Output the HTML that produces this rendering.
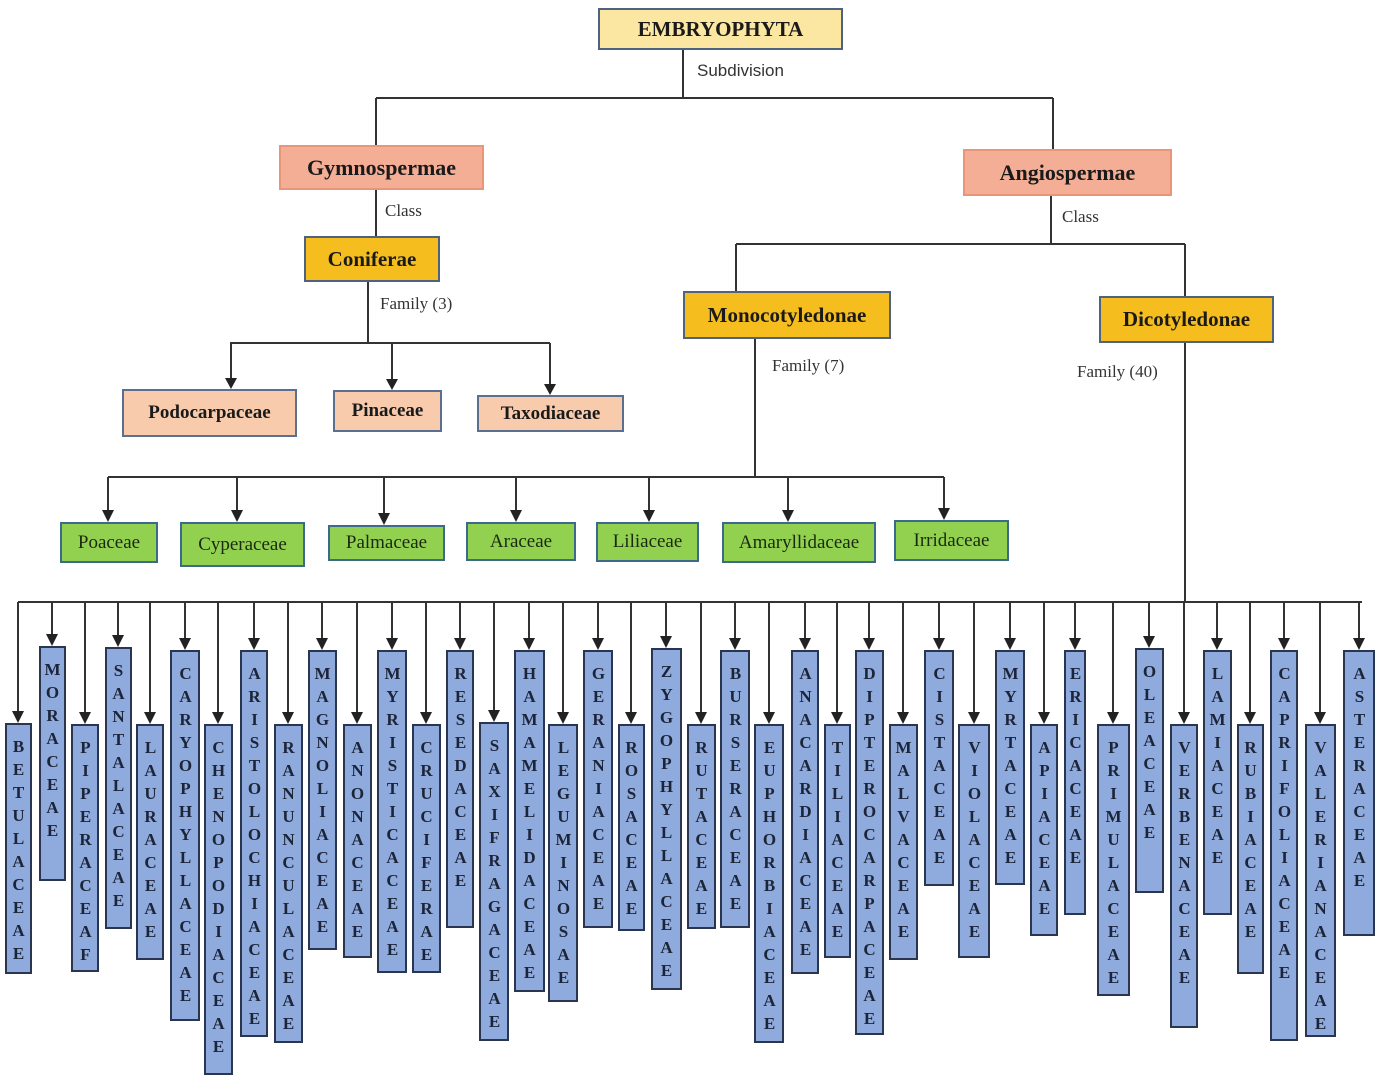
<!DOCTYPE html>
<html><head><meta charset="utf-8"><style>
html,body{margin:0;padding:0;background:#fff;}
#c{position:relative;width:1382px;height:1081px;overflow:hidden;font-family:"Liberation Serif",serif;}
.b{position:absolute;box-sizing:border-box;display:flex;align-items:center;justify-content:center;font-weight:bold;color:#1a1a1a;border:2px solid #4f6280;}
.g{background:#92d050;border-color:#3d6a8a;font-weight:normal;color:#1a2a10;font-size:19px;}
.p{background:#f8cbad;border-color:#5b7090;font-size:19px;}
.v{position:absolute;box-sizing:border-box;background:#8faadc;border:2px solid #2a3550;writing-mode:vertical-lr;text-orientation:upright;font-weight:bold;font-size:17px;letter-spacing:4px;color:#1c2438;font-family:"Liberation Serif",serif;padding-top:12px;}
.l{position:absolute;font-size:17px;color:#333;}
.s{font-family:"Liberation Sans",sans-serif;}
</style></head><body><div id="c">
<svg width="1382" height="1081" style="position:absolute;left:0;top:0" fill="none" stroke="#333" stroke-width="2">
<path d="M683 50V98M376 98H1053M376 98V145M1053 98V149M376 190V236M1051 196V244M736 244H1185M736 244V291M1185 244V296M368 282V343M230 343H550M231 343V380M392 343V381M550 343V386M755 339V477M108 477H944M108 477V512M237 477V512M384 477V515M516 477V512M649 477V512M788 477V512M944 477V510M1185 343V602M18 602H1362"/>
<g fill="#222" stroke="none">
<path d="M225 378h12l-6 11zM386 379h12l-6 11zM544 384h12l-6 11z"/>
<path d="M102 510h12l-6 12zM231 510h12l-6 12zM378 513h12l-6 12zM510 510h12l-6 12zM643 510h12l-6 12zM782 510h12l-6 12zM938 508h12l-6 12z"/>
</g>
</svg>
<div class="b" style="left:598px;top:8px;width:245px;height:42px;background:#fbe6a2;font-size:21px;">EMBRYOPHYTA</div>
<div class="l s" style="left:697px;top:61px;">Subdivision</div>
<div class="b" style="left:279px;top:145px;width:205px;height:45px;background:#f4ae96;border-color:#e8957a;font-size:22px;">Gymnospermae</div>
<div class="b" style="left:963px;top:149px;width:209px;height:47px;background:#f4ae96;border-color:#e8957a;font-size:22px;">Angiospermae</div>
<div class="l" style="left:385px;top:201px;">Class</div>
<div class="l" style="left:1062px;top:207px;">Class</div>
<div class="b" style="left:304px;top:236px;width:136px;height:46px;background:#f5be1e;font-size:21px;">Coniferae</div>
<div class="l" style="left:380px;top:294px;">Family (3)</div>
<div class="b" style="left:683px;top:291px;width:208px;height:48px;background:#f5be1e;font-size:21px;">Monocotyledonae</div>
<div class="b" style="left:1099px;top:296px;width:175px;height:47px;background:#f5be1e;font-size:21px;">Dicotyledonae</div>
<div class="l" style="left:772px;top:356px;">Family (7)</div>
<div class="l" style="left:1077px;top:362px;">Family (40)</div>
<div class="b p" style="left:122px;top:389px;width:175px;height:48px;">Podocarpaceae</div>
<div class="b p" style="left:333px;top:390px;width:109px;height:42px;">Pinaceae</div>
<div class="b p" style="left:477px;top:395px;width:147px;height:37px;">Taxodiaceae</div>
<div class="b g" style="left:60px;top:522px;width:98px;height:41px;">Poaceae</div>
<div class="b g" style="left:180px;top:522px;width:125px;height:45px;">Cyperaceae</div>
<div class="b g" style="left:328px;top:525px;width:117px;height:36px;">Palmaceae</div>
<div class="b g" style="left:466px;top:522px;width:110px;height:39px;">Araceae</div>
<div class="b g" style="left:596px;top:522px;width:103px;height:40px;">Liliaceae</div>
<div class="b g" style="left:722px;top:522px;width:154px;height:41px;">Amaryllidaceae</div>
<div class="b g" style="left:894px;top:520px;width:115px;height:41px;">Irridaceae</div>

<div class="v" style="left:5px;top:723px;width:27px;height:251px;line-height:23px;">BETULACEAE</div>
<div class="v" style="left:39px;top:646px;width:27px;height:235px;line-height:23px;">MORACEAE</div>
<div class="v" style="left:71px;top:724px;width:28px;height:248px;line-height:24px;">PIPERACEAF</div>
<div class="v" style="left:105px;top:647px;width:27px;height:282px;line-height:23px;">SANTALACEAE</div>
<div class="v" style="left:136px;top:724px;width:28px;height:236px;line-height:24px;">LAURACEAE</div>
<div class="v" style="left:170px;top:650px;width:30px;height:371px;line-height:26px;">CARYOPHYLLACEAE</div>
<div class="v" style="left:204px;top:724px;width:29px;height:351px;line-height:25px;">CHENOPODIACEAE</div>
<div class="v" style="left:240px;top:650px;width:28px;height:387px;line-height:24px;">ARISTOLOCHIACEAE</div>
<div class="v" style="left:274px;top:724px;width:29px;height:319px;line-height:25px;">RANUNCULACEAE</div>
<div class="v" style="left:308px;top:650px;width:29px;height:300px;line-height:25px;">MAGNOLIACEAE</div>
<div class="v" style="left:343px;top:724px;width:29px;height:234px;line-height:25px;">ANONACEAE</div>
<div class="v" style="left:377px;top:650px;width:30px;height:323px;line-height:26px;">MYRISTICACEAE</div>
<div class="v" style="left:412px;top:724px;width:29px;height:249px;line-height:25px;">CRUCIFERAE</div>
<div class="v" style="left:446px;top:650px;width:28px;height:278px;line-height:24px;">RESEDACEAE</div>
<div class="v" style="left:479px;top:722px;width:30px;height:319px;line-height:26px;">SAXIFRAGACEAE</div>
<div class="v" style="left:514px;top:650px;width:31px;height:342px;line-height:27px;">HAMAMELIDACEAE</div>
<div class="v" style="left:548px;top:724px;width:30px;height:278px;line-height:26px;">LEGUMINOSAE</div>
<div class="v" style="left:583px;top:650px;width:30px;height:278px;line-height:26px;">GERANIACEAE</div>
<div class="v" style="left:618px;top:724px;width:27px;height:207px;line-height:23px;">ROSACEAE</div>
<div class="v" style="left:651px;top:648px;width:31px;height:342px;line-height:27px;">ZYGOPHYLLACEAE</div>
<div class="v" style="left:687px;top:724px;width:29px;height:205px;line-height:25px;">RUTACEAE</div>
<div class="v" style="left:720px;top:650px;width:30px;height:278px;line-height:26px;">BURSERACEAE</div>
<div class="v" style="left:754px;top:724px;width:30px;height:319px;line-height:26px;">EUPHORBIACEAE</div>
<div class="v" style="left:791px;top:650px;width:28px;height:324px;line-height:24px;">ANACARDIACEAE</div>
<div class="v" style="left:824px;top:724px;width:27px;height:234px;line-height:23px;">TILIACEAE</div>
<div class="v" style="left:855px;top:650px;width:29px;height:385px;line-height:25px;">DIPTEROCARPACEAE</div>
<div class="v" style="left:889px;top:724px;width:29px;height:236px;line-height:25px;">MALVACEAE</div>
<div class="v" style="left:924px;top:650px;width:30px;height:236px;line-height:26px;">CISTACEAE</div>
<div class="v" style="left:958px;top:724px;width:32px;height:234px;line-height:28px;">VIOLACEAE</div>
<div class="v" style="left:995px;top:650px;width:30px;height:235px;line-height:26px;">MYRTACEAE</div>
<div class="v" style="left:1030px;top:724px;width:28px;height:212px;line-height:24px;">APIACEAE</div>
<div class="v" style="left:1064px;top:650px;width:22px;height:265px;line-height:18px;">ERICACEAE</div>
<div class="v" style="left:1097px;top:724px;width:33px;height:272px;line-height:29px;">PRIMULACEAE</div>
<div class="v" style="left:1135px;top:648px;width:29px;height:245px;line-height:25px;">OLEACEAE</div>
<div class="v" style="left:1170px;top:724px;width:28px;height:304px;line-height:24px;">VERBENACEAE</div>
<div class="v" style="left:1203px;top:650px;width:29px;height:265px;line-height:25px;">LAMIACEAE</div>
<div class="v" style="left:1237px;top:724px;width:27px;height:250px;line-height:23px;">RUBIACEAE</div>
<div class="v" style="left:1270px;top:650px;width:28px;height:391px;line-height:24px;">CAPRIFOLIACEAE</div>
<div class="v" style="left:1305px;top:724px;width:31px;height:313px;line-height:27px;">VALERIANACEAE</div>
<div class="v" style="left:1343px;top:650px;width:32px;height:286px;line-height:28px;">ASTERACEAE</div>

<svg width="1382" height="1081" style="position:absolute;left:0;top:0;pointer-events:none" stroke="#333" stroke-width="2">
<g fill="none">
<path d="M18 602V712M52 602V636M85 602V713M118 602V637M150 602V713M185 602V640M218 602V713M254 602V640M288 602V713M322 602V640M357 602V713M392 602V640M426 602V713M460 602V640M494 602V711M529 602V640M563 602V713M598 602V640M631 602V713M666 602V638M701 602V713M735 602V640M769 602V713M805 602V640M837 602V713M869 602V640M903 602V713M939 602V640M974 602V713M1010 602V640M1044 602V713M1075 602V640M1113 602V713M1149 602V638M1184 602V713M1217 602V640M1250 602V713M1284 602V640M1320 602V713M1359 602V640"/>
</g>
<g fill="#222" stroke="none">
<path d="M12 711h12l-6 12zM46 634h12l-6 12zM79 712h12l-6 12zM112 635h12l-6 12zM144 712h12l-6 12zM179 638h12l-6 12zM212 712h12l-6 12zM248 638h12l-6 12zM282 712h12l-6 12zM316 638h12l-6 12zM351 712h12l-6 12zM386 638h12l-6 12zM420 712h12l-6 12zM454 638h12l-6 12zM488 710h12l-6 12zM523 638h12l-6 12zM557 712h12l-6 12zM592 638h12l-6 12zM625 712h12l-6 12zM660 636h12l-6 12zM695 712h12l-6 12zM729 638h12l-6 12zM763 712h12l-6 12zM799 638h12l-6 12zM831 712h12l-6 12zM863 638h12l-6 12zM897 712h12l-6 12zM933 638h12l-6 12zM968 712h12l-6 12zM1004 638h12l-6 12zM1038 712h12l-6 12zM1069 638h12l-6 12zM1107 712h12l-6 12zM1143 636h12l-6 12zM1178 712h12l-6 12zM1211 638h12l-6 12zM1244 712h12l-6 12zM1278 638h12l-6 12zM1314 712h12l-6 12zM1353 638h12l-6 12z"/>
</g>
</svg>
</div></body></html>
